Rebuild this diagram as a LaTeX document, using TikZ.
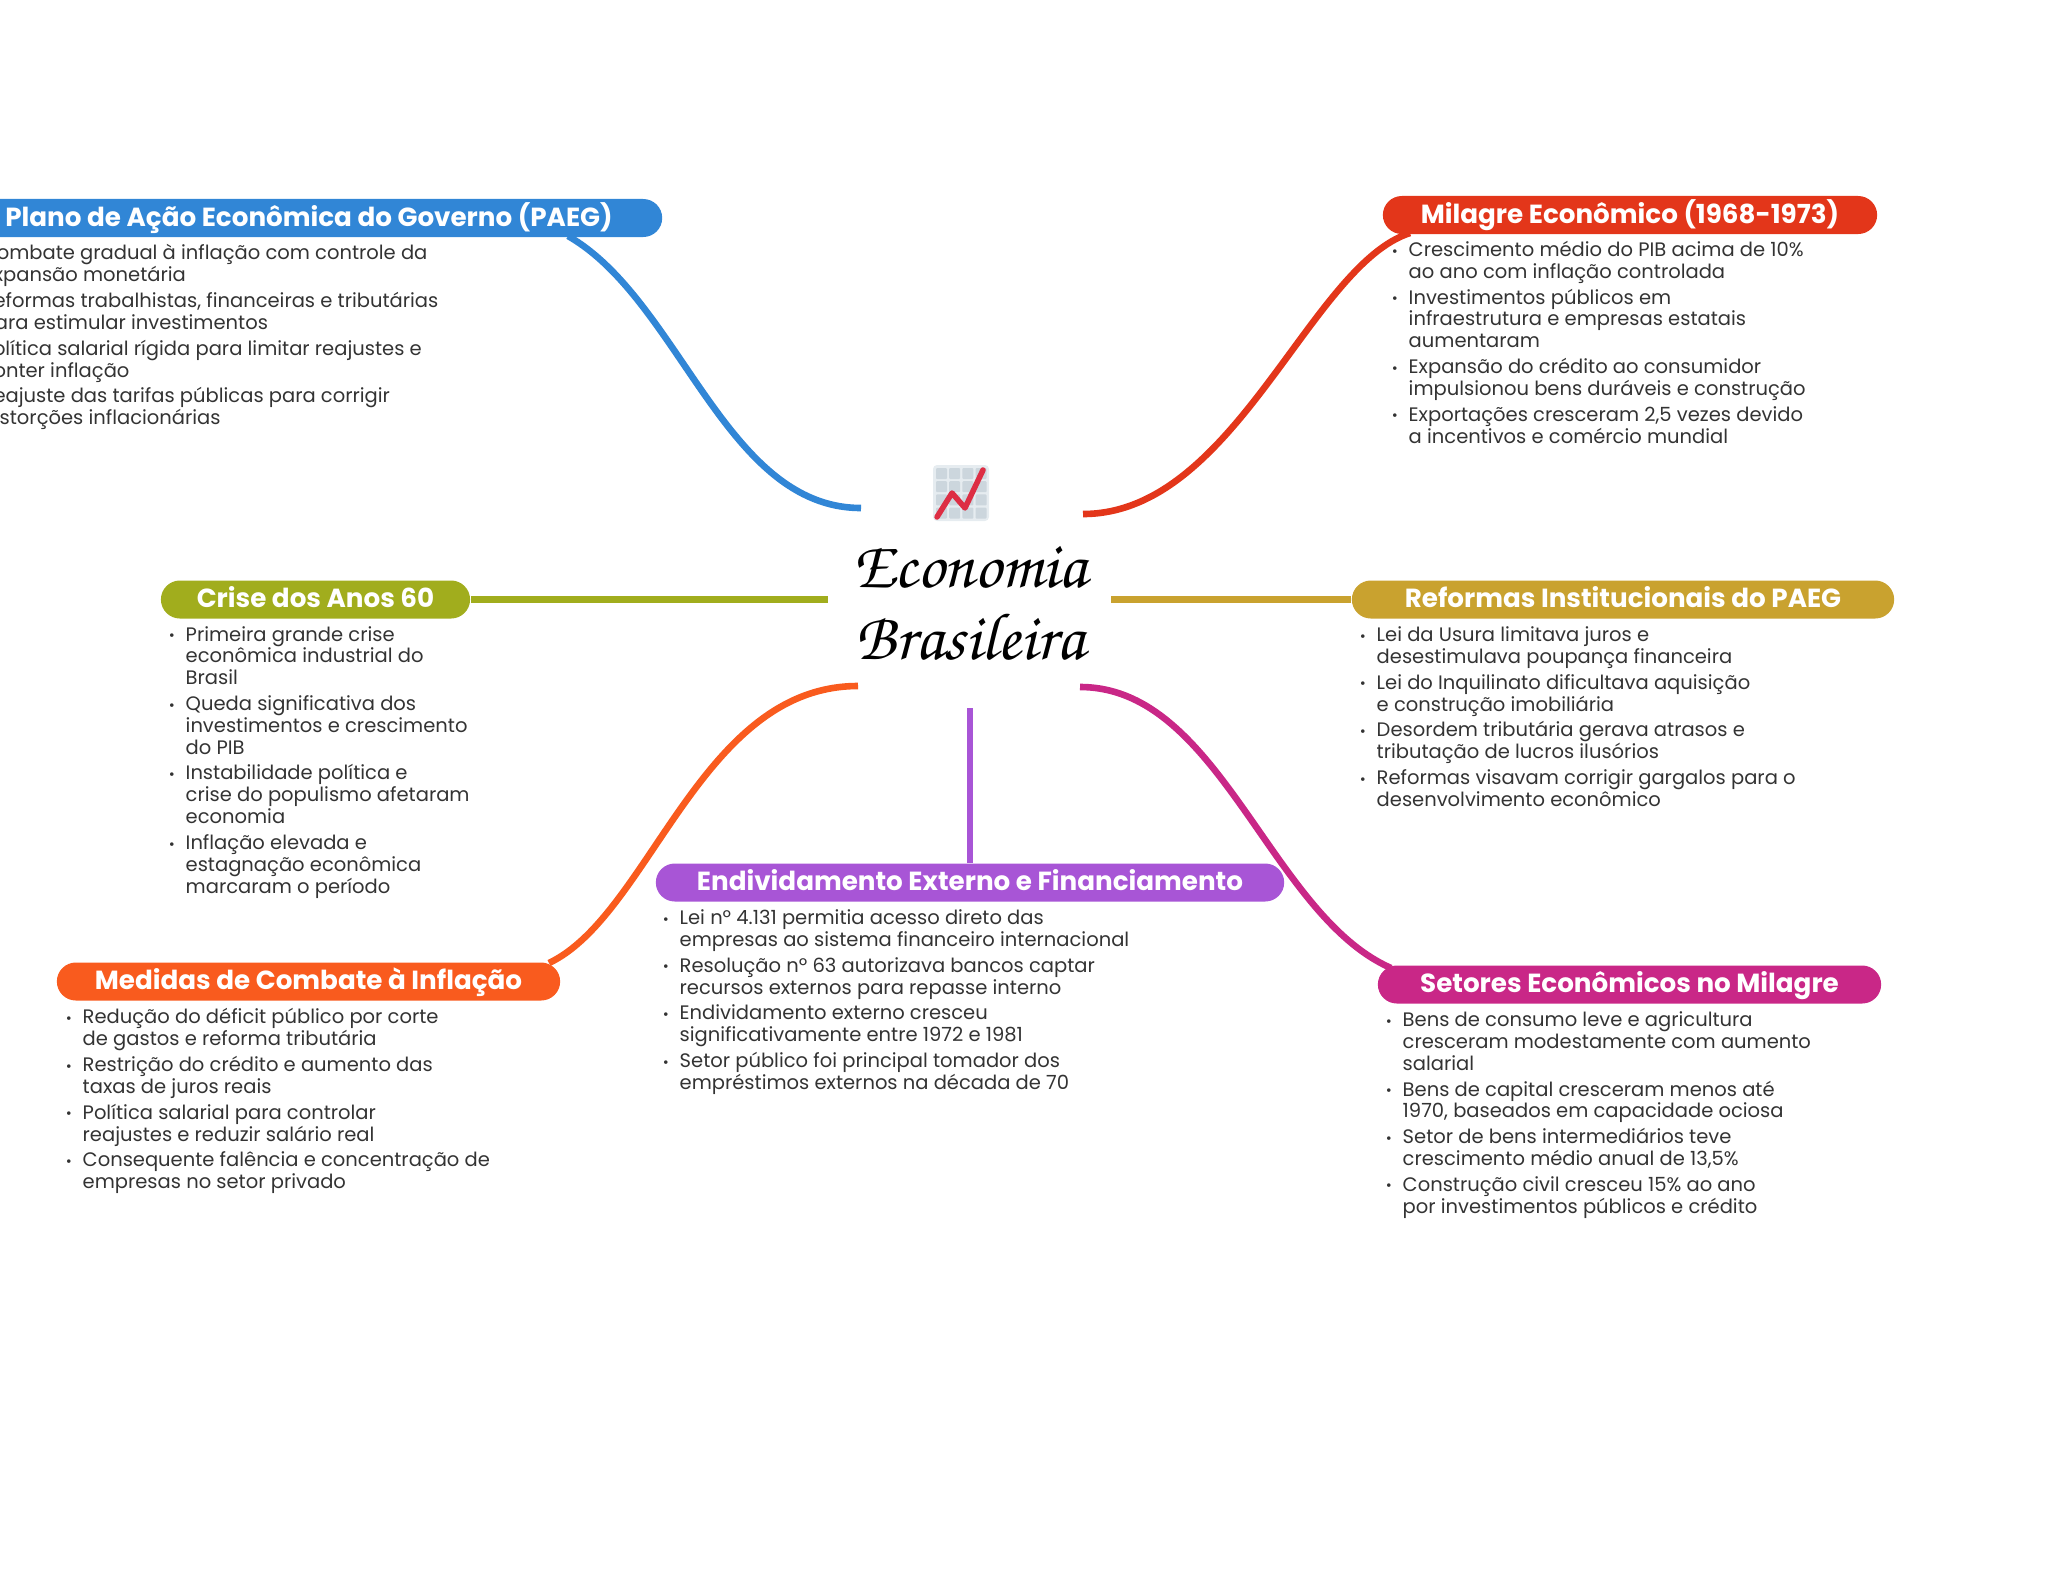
\documentclass[tikz,border=0pt]{standalone}
\usepackage{fontspec}
\setmainfont{Poppins}
\usetikzlibrary{positioning}

\definecolor{paegblue}{HTML}{3186D6}
\definecolor{milagrered}{HTML}{E3361A}
\definecolor{criseolive}{HTML}{A1AD1D}
\definecolor{reformagold}{HTML}{C9A22F}
\definecolor{medidaorange}{HTML}{F95B1E}
\definecolor{dividapurple}{HTML}{A855D6}
\definecolor{setormagenta}{HTML}{C92787}
\definecolor{bodygray}{HTML}{333333}
\definecolor{iconback}{HTML}{E6ECF0}
\definecolor{iconcell}{HTML}{CCD6DD}
\definecolor{iconred}{HTML}{DD2E44}

\newcommand{\bul}{\makebox[0pt][r]{\raisebox{0.1pt}{\scalebox{0.75}{•}}\hspace{3.1pt}}}
\newcommand{\nextitem}{\\[1.15pt]\bul}

\begin{document}
\begin{tikzpicture}[
    x=0.01cm, y=-0.01cm,
    head/.style={rounded corners=0.19cm, minimum height=0.38cm, inner sep=0pt, text=white,
        text height=6pt, text depth=1.2pt,
        font=\fontsize{7.45}{8.5}\selectfont\bfseries},
    body/.style={anchor=north west, inner sep=0pt, align=left, text=bodygray,
        font=\fontsize{5.55}{6.2}\selectfont},
    branch/.style={line width=0.066cm},
    title/.style={align=center, inner sep=0pt, text=black,
        font=\fontsize{19}{20.5}\fontencoding{T1}\fontfamily{pzc}\selectfont}
]
    \useasboundingbox (0,0) rectangle (2048,1569);
    \clip (0,0) rectangle (2048,1569);

    % centre
    \node[title] (centre) at (970,603) {Economia\\Brasileira};
    \fill[iconback, rounded corners=0.04cm] (933,465) rectangle (989,521);
    \foreach \i in {0,1,2,3}
        \foreach \j in {0,1,2,3}
            \fill[iconcell, rounded corners=0.01cm] (936+\i*13.2,468+\j*13.2) rectangle ++(11,11);
    \draw[iconred, line width=0.055cm, line cap=round, line join=round]
        (937,517) -- (952,493) -- (965,508) -- (983,470);

    % free ends near the centre
    \coordinate (paegend) at (861,508);
    \coordinate (milagreend) at (1083,514);
    \coordinate (criseend) at (828,599.5);
    \coordinate (reformaend) at (1111,599.5);
    \coordinate (medidaend) at (858,686);
    \coordinate (dividaend) at (970,708);
    \coordinate (setorend) at (1080,687);

    % branches
    \coordinate (paegstart) at (568,236);
    \coordinate (milagrestart) at (1410,233);
    \coordinate (medidastart) at (549,963);
    \coordinate (setorstart) at (1391,968);
    \draw[branch, paegblue] (paegstart) .. controls (680,300) and (725,508) .. (paegend);
    \draw[branch, milagrered] (milagrestart) .. controls (1310,265) and (1235,514) .. (milagreend);
    \draw[branch, medidaorange] (medidastart) .. controls (650,915) and (700,686) .. (medidaend);
    \draw[branch, setormagenta] (setorstart) .. controls (1270,915) and (1220,687) .. (setorend);

    % heads
    \node[head, fill=paegblue, minimum width=7.06cm] (paeg) at (309,218) {Plano de Ação Econômica do Governo (PAEG)};
    \node[head, fill=milagrered, minimum width=4.94cm] (milagre) at (1630,215) {Milagre Econômico (1968-1973)};
    \node[head, fill=criseolive, minimum width=3.09cm] (crise) at (315.5,599.5) {Crise dos Anos 60};
    \node[head, fill=reformagold, minimum width=5.42cm] (reforma) at (1623,599.5) {Reformas Institucionais do PAEG};
    \node[head, fill=medidaorange, minimum width=5.03cm] (medida) at (308.5,981.5) {Medidas de Combate à Inflação};
    \node[head, fill=dividapurple, minimum width=6.28cm] (divida) at (970,882.5) {Endividamento Externo e Financiamento};
    \node[head, fill=setormagenta, minimum width=5.03cm] (setor) at (1629.5,984.5) {Setores Econômicos no Milagre};

    \draw[branch, criseolive] (crise) -- (criseend);
    \draw[branch, reformagold] (reforma) -- (reformaend);
    \draw[branch, dividapurple] (divida) -- (dividaend);

    % lists
    \node[body] (paegtext) at (-19,244) {\bul Combate gradual à inflação com controle da\\expansão monetária\nextitem
        Reformas trabalhistas, financeiras e tributárias\\para estimular investimentos\nextitem
        Política salarial rígida para limitar reajustes e\\conter inflação\nextitem
        Reajuste das tarifas públicas para corrigir\\distorções inflacionárias};
    \node[body] (milagretext) at (1408,240.5) {\bul Crescimento médio do PIB acima de 10\%\\ao ano com inflação controlada\nextitem
        Investimentos públicos em\\infraestrutura e empresas estatais\\aumentaram\nextitem
        Expansão do crédito ao consumidor\\impulsionou bens duráveis e construção\nextitem
        Exportações cresceram 2,5 vezes devido\\a incentivos e comércio mundial};
    \node[body] (crisetext) at (185,625.5) {\bul Primeira grande crise\\econômica industrial do\\Brasil\nextitem
        Queda significativa dos\\investimentos e crescimento\\do PIB\nextitem
        Instabilidade política e\\crise do populismo afetaram\\economia\nextitem
        Inflação elevada e\\estagnação econômica\\marcaram o período};
    \node[body] (reformatext) at (1376,626) {\bul Lei da Usura limitava juros e\\desestimulava poupança financeira\nextitem
        Lei do Inquilinato dificultava aquisição\\e construção imobiliária\nextitem
        Desordem tributária gerava atrasos e\\tributação de lucros ilusórios\nextitem
        Reformas visavam corrigir gargalos para o\\desenvolvimento econômico};
    \node[body] (medidatext) at (82,1008) {\bul Redução do déficit público por corte\\de gastos e reforma tributária\nextitem
        Restrição do crédito e aumento das\\taxas de juros reais\nextitem
        Política salarial para controlar\\reajustes e reduzir salário real\nextitem
        Consequente falência e concentração de\\empresas no setor privado};
    \node[body] (dividatext) at (679,909) {\bul Lei nº 4.131 permitia acesso direto das\\empresas ao sistema financeiro internacional\nextitem
        Resolução nº 63 autorizava bancos captar\\recursos externos para repasse interno\nextitem
        Endividamento externo cresceu\\significativamente entre 1972 e 1981\nextitem
        Setor público foi principal tomador dos\\empréstimos externos na década de 70};
    \node[body] (setortext) at (1402,1011) {\bul Bens de consumo leve e agricultura\\cresceram modestamente com aumento\\salarial\nextitem
        Bens de capital cresceram menos até\\1970, baseados em capacidade ociosa\nextitem
        Setor de bens intermediários teve\\crescimento médio anual de 13,5\%\nextitem
        Construção civil cresceu 15\% ao ano\\por investimentos públicos e crédito};
\end{tikzpicture}
\end{document}
